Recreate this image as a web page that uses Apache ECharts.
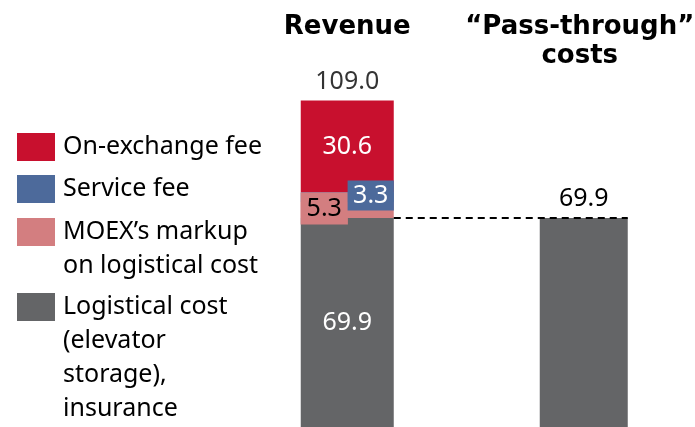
<!DOCTYPE html>
<html>
<head>
<meta charset="utf-8">
<script src="https://cdn.jsdelivr.net/npm/echarts@6/dist/echarts.min.js"></script>
<style>
  html, body { margin: 0; padding: 0; background: #fff; }
  #chart { width: 695px; height: 427px; }
</style>
</head>
<body>
<div id="chart"></div>
<script>
// Column headings (category axis)
const categories = ['Revenue', '“Pass-through”\ncosts'];

// Revenue breakdown, one value per column ('-' = no bar in that column)
const logisticalCost = [69.9, '-'];
const moexMarkup = [5.3, '-'];
const serviceFee = [3.3, '-'];
const onExchangeFee = [30.6, '-'];

// Pass-through costs column
const passThroughCost = ['-', 69.9];

// Stated total above the revenue column
const revenueTotal = [109.0, '-'];

// Legend names
const names = {
  onExchange: 'On-exchange fee',
  service: 'Service fee',
  markup: 'MOEX’s markup\non logistical cost',
  logistical: 'Logistical cost\n(elevator\nstorage),\ninsurance'
};

const COLORS = {
  red: '#C8102E',
  blue: '#4D6A9B',
  pink: '#D37E80',
  gray: '#646567'
};

const FONT = 'Noto Sans';
const TITLE_FONT = 'DejaVu Sans';
const REV_BAR_W = 93;
const PT_BAR_W = 88;
const LINE_H = 34;

const valueLabel = {
  fontFamily: FONT,
  fontSize: 25,
  lineHeight: 30
};

// One legend block per entry; leading blank lines keep the swatch level with the first text line
function legendBlock(name, color, top) {
  const lines = name.split('\n').length;
  return {
    data: [{ name: name, icon: 'rect', itemStyle: { color: color } }],
    left: 17,
    top: top,
    orient: 'vertical',
    padding: 0,
    itemWidth: 38,
    itemHeight: 28,
    selectedMode: false,
    formatter: n => '\n'.repeat(lines - 1) + n,
    textStyle: {
      fontFamily: FONT,
      fontSize: 25,
      color: '#000',
      lineHeight: LINE_H,
      padding: [0, 0, 0, 3]
    }
  };
}

const titleStyle = {
  fontFamily: TITLE_FONT,
  fontWeight: 'bold',
  fontSize: 26,
  lineHeight: 29,
  color: '#000'
};

const chart = echarts.init(document.getElementById('chart'), null, { renderer: 'canvas' });

chart.setOption({
  animation: false,
  backgroundColor: '#fff',
  legend: [
    legendBlock(names.onExchange, COLORS.red, 130),
    legendBlock(names.service, COLORS.blue, 172),
    legendBlock(names.markup, COLORS.pink, 181),
    legendBlock(names.logistical, COLORS.gray, 188)
  ],
  grid: { left: 229, right: -7, top: 68, bottom: 0, containLabel: false, outerBoundsMode: 'none' },
  xAxis: [
    {
      type: 'category',
      data: categories,
      position: 'top',
      axisLine: { show: false },
      axisTick: { show: false },
      axisLabel: Object.assign({
        interval: 0,
        margin: 55,
        verticalAlign: 'top',
        // second heading sits slightly left of its column
        formatter: (v, i) => i === 1 ? v.split('\n').map(l => '{s|' + l + '}').join('\n') : v,
        rich: { s: Object.assign({ padding: [0, 8, 0, 0] }, titleStyle) }
      }, titleStyle)
    },
    {
      type: 'category',
      data: categories,
      show: false
    }
  ],
  yAxis: {
    type: 'value',
    min: 0,
    max: 120,
    show: false,
    splitLine: { show: false }
  },
  series: [
    {
      name: names.logistical,
      type: 'bar',
      stack: 'revenue',
      xAxisIndex: 0,
      barWidth: REV_BAR_W,
      data: logisticalCost,
      itemStyle: { color: COLORS.gray },
      label: Object.assign({ show: true, position: 'inside', color: '#fff', formatter: p => p.value.toFixed(1) }, valueLabel)
    },
    {
      name: names.markup,
      type: 'bar',
      stack: 'revenue',
      xAxisIndex: 0,
      barWidth: REV_BAR_W,
      data: moexMarkup,
      itemStyle: { color: COLORS.pink },
      label: Object.assign({
        show: true, position: 'inside', offset: [-23, -1.5], color: '#000',
        backgroundColor: COLORS.pink, padding: [1, 6, 1, 6],
        formatter: p => p.value.toFixed(1)
      }, valueLabel)
    },
    {
      name: names.service,
      type: 'bar',
      stack: 'revenue',
      xAxisIndex: 0,
      barWidth: REV_BAR_W,
      data: serviceFee,
      itemStyle: { color: COLORS.blue },
      label: Object.assign({
        show: true, position: 'inside', offset: [23.5, -1.5], color: '#fff',
        backgroundColor: COLORS.blue, padding: [0, 5.5, 0, 5.5],
        formatter: p => p.value.toFixed(1)
      }, valueLabel)
    },
    {
      name: names.onExchange,
      type: 'bar',
      stack: 'revenue',
      xAxisIndex: 0,
      barWidth: REV_BAR_W,
      data: onExchangeFee,
      itemStyle: { color: COLORS.red },
      label: Object.assign({ show: true, position: 'inside', color: '#fff', formatter: p => p.value.toFixed(1) }, valueLabel)
    },
    {
      name: 'Pass-through costs',
      type: 'bar',
      xAxisIndex: 1,
      barWidth: PT_BAR_W,
      data: passThroughCost,
      itemStyle: { color: COLORS.gray },
      label: Object.assign({ show: true, position: 'top', distance: 4, color: '#000', formatter: p => p.value.toFixed(1) }, valueLabel)
    },
    {
      // Total written above the revenue column
      name: 'Revenue total',
      type: 'scatter',
      xAxisIndex: 0,
      symbolSize: 0,
      data: revenueTotal,
      label: Object.assign({ show: true, position: 'top', distance: 4, color: '#000', formatter: p => p.value.toFixed(1) }, valueLabel),
      z: 5
    },
    {
      // Dashed connector from the logistical-cost level to the pass-through column
      name: 'Connector',
      type: 'custom',
      xAxisIndex: 0,
      z: 10,
      data: [[0, logisticalCost[0], passThroughCost[1]]],
      renderItem: function (params, api) {
        const a = api.coord([0, api.value(1)]);
        const b = api.coord([1, api.value(2)]);
        return {
          type: 'line',
          shape: { x1: a[0] + REV_BAR_W / 2, y1: a[1], x2: b[0] + PT_BAR_W / 2, y2: b[1] },
          style: { stroke: '#000', lineWidth: 2, lineDash: [7, 5] }
        };
      }
    }
  ]
});
</script>
</body>
</html>
